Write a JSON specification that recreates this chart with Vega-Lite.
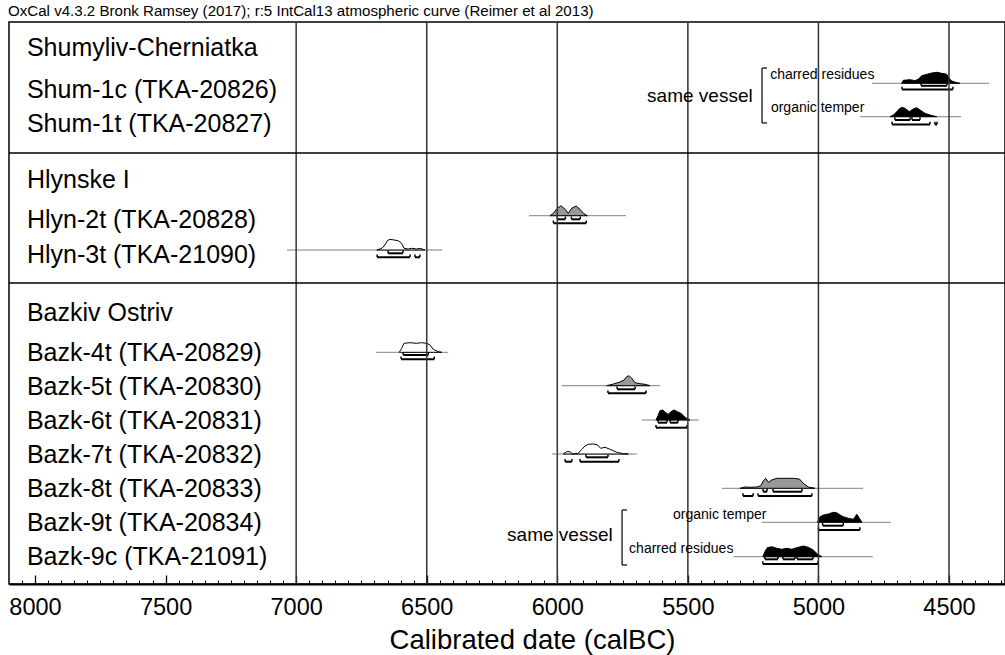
{
  "$schema": "https://vega.github.io/schema/vega-lite/v6.json",
  "autosize": "none",
  "width": 996,
  "height": 562,
  "padding": {"left": 9, "top": 22, "right": 0, "bottom": 71},
  "background": "white",
  "title": {"text": "OxCal v4.3.2 Bronk Ramsey (2017); r:5 IntCal13 atmospheric curve (Reimer et al 2013)", "anchor": "start", "frame": "group", "fontSize": 15.1, "font": "Liberation Sans", "fontWeight": "normal", "color": "black", "offset": 2, "dx": -1},
  "config": {"view": {"stroke": "black", "strokeWidth": 1.5}},
  "datasets": {
    "base": [
      {"s": "Shum-1c", "x1": 4795, "x2": 4347, "lvl": 61.3},
      {"s": "Shum-1t", "x1": 4841, "x2": 4454, "lvl": 94.7},
      {"s": "Hlyn-2t", "x1": 6108, "x2": 5737, "lvl": 193.7},
      {"s": "Hlyn-3t", "x1": 7035, "x2": 6441, "lvl": 228},
      {"s": "Bazk-4t", "x1": 6694, "x2": 6418, "lvl": 330.3},
      {"s": "Bazk-5t", "x1": 5983, "x2": 5607, "lvl": 363.7},
      {"s": "Bazk-6t", "x1": 5677, "x2": 5457, "lvl": 398},
      {"s": "Bazk-7t", "x1": 6020, "x2": 5695, "lvl": 432},
      {"s": "Bazk-8t", "x1": 5370, "x2": 4829, "lvl": 466.3},
      {"s": "Bazk-9t", "x1": 5217, "x2": 4722, "lvl": 500.3},
      {"s": "Bazk-9c", "x1": 5326, "x2": 4792, "lvl": 534.7}
    ],
    "dens": [
      {"s": "Shum-1c", "yr": 4681, "top": 61.3, "base": 61.3},
      {"s": "Shum-1c", "yr": 4675, "top": 58.3, "base": 61.3},
      {"s": "Shum-1c", "yr": 4649, "top": 57.7, "base": 61.3},
      {"s": "Shum-1c", "yr": 4630, "top": 58.7, "base": 61.3},
      {"s": "Shum-1c", "yr": 4617, "top": 57, "base": 61.3},
      {"s": "Shum-1c", "yr": 4604, "top": 53.7, "base": 61.3},
      {"s": "Shum-1c", "yr": 4585, "top": 52.3, "base": 61.3},
      {"s": "Shum-1c", "yr": 4566, "top": 51, "base": 61.3},
      {"s": "Shum-1c", "yr": 4547, "top": 50.3, "base": 61.3},
      {"s": "Shum-1c", "yr": 4528, "top": 51.3, "base": 61.3},
      {"s": "Shum-1c", "yr": 4509, "top": 52.3, "base": 61.3},
      {"s": "Shum-1c", "yr": 4499, "top": 56.3, "base": 61.3},
      {"s": "Shum-1c", "yr": 4490, "top": 59, "base": 61.3},
      {"s": "Shum-1c", "yr": 4470, "top": 60.7, "base": 61.3},
      {"s": "Shum-1c", "yr": 4458, "top": 61.3, "base": 61.3},
      {"s": "Shum-1t", "yr": 4726, "top": 94.7, "base": 94.7},
      {"s": "Shum-1t", "yr": 4713, "top": 93, "base": 94.7},
      {"s": "Shum-1t", "yr": 4700, "top": 89.7, "base": 94.7},
      {"s": "Shum-1t", "yr": 4688, "top": 86.3, "base": 94.7},
      {"s": "Shum-1t", "yr": 4677, "top": 85.3, "base": 94.7},
      {"s": "Shum-1t", "yr": 4665, "top": 87, "base": 94.7},
      {"s": "Shum-1t", "yr": 4652, "top": 89.7, "base": 94.7},
      {"s": "Shum-1t", "yr": 4639, "top": 87.3, "base": 94.7},
      {"s": "Shum-1t", "yr": 4624, "top": 85.7, "base": 94.7},
      {"s": "Shum-1t", "yr": 4611, "top": 88, "base": 94.7},
      {"s": "Shum-1t", "yr": 4592, "top": 91.3, "base": 94.7},
      {"s": "Shum-1t", "yr": 4573, "top": 93, "base": 94.7},
      {"s": "Shum-1t", "yr": 4547, "top": 94.7, "base": 94.7},
      {"s": "Hlyn-2t", "yr": 6028, "top": 193.7, "base": 193.7},
      {"s": "Hlyn-2t", "yr": 6015, "top": 191.3, "base": 193.7},
      {"s": "Hlyn-2t", "yr": 6000, "top": 186.3, "base": 193.7},
      {"s": "Hlyn-2t", "yr": 5986, "top": 183.7, "base": 193.7},
      {"s": "Hlyn-2t", "yr": 5970, "top": 187.3, "base": 193.7},
      {"s": "Hlyn-2t", "yr": 5958, "top": 191.3, "base": 193.7},
      {"s": "Hlyn-2t", "yr": 5945, "top": 186.3, "base": 193.7},
      {"s": "Hlyn-2t", "yr": 5928, "top": 184, "base": 193.7},
      {"s": "Hlyn-2t", "yr": 5913, "top": 187.3, "base": 193.7},
      {"s": "Hlyn-2t", "yr": 5900, "top": 191.3, "base": 193.7},
      {"s": "Hlyn-2t", "yr": 5885, "top": 193.7, "base": 193.7},
      {"s": "Hlyn-3t", "yr": 6691, "top": 228, "base": 228},
      {"s": "Hlyn-3t", "yr": 6672, "top": 226.3, "base": 228},
      {"s": "Hlyn-3t", "yr": 6660, "top": 223, "base": 228},
      {"s": "Hlyn-3t", "yr": 6651, "top": 218.7, "base": 228},
      {"s": "Hlyn-3t", "yr": 6641, "top": 217.3, "base": 228},
      {"s": "Hlyn-3t", "yr": 6625, "top": 218, "base": 228},
      {"s": "Hlyn-3t", "yr": 6609, "top": 218.7, "base": 228},
      {"s": "Hlyn-3t", "yr": 6596, "top": 221.3, "base": 228},
      {"s": "Hlyn-3t", "yr": 6587, "top": 226.3, "base": 228},
      {"s": "Hlyn-3t", "yr": 6571, "top": 227, "base": 228},
      {"s": "Hlyn-3t", "yr": 6557, "top": 226.3, "base": 228},
      {"s": "Hlyn-3t", "yr": 6538, "top": 227, "base": 228},
      {"s": "Hlyn-3t", "yr": 6526, "top": 226.3, "base": 228},
      {"s": "Hlyn-3t", "yr": 6507, "top": 228, "base": 228},
      {"s": "Bazk-4t", "yr": 6605, "top": 330.3, "base": 330.3},
      {"s": "Bazk-4t", "yr": 6596, "top": 326.3, "base": 330.3},
      {"s": "Bazk-4t", "yr": 6587, "top": 321.3, "base": 330.3},
      {"s": "Bazk-4t", "yr": 6564, "top": 320.7, "base": 330.3},
      {"s": "Bazk-4t", "yr": 6538, "top": 321.3, "base": 330.3},
      {"s": "Bazk-4t", "yr": 6519, "top": 320.7, "base": 330.3},
      {"s": "Bazk-4t", "yr": 6500, "top": 321.3, "base": 330.3},
      {"s": "Bazk-4t", "yr": 6487, "top": 323, "base": 330.3},
      {"s": "Bazk-4t", "yr": 6475, "top": 327.3, "base": 330.3},
      {"s": "Bazk-4t", "yr": 6456, "top": 329.7, "base": 330.3},
      {"s": "Bazk-4t", "yr": 6443, "top": 330.3, "base": 330.3},
      {"s": "Bazk-5t", "yr": 5811, "top": 363.7, "base": 363.7},
      {"s": "Bazk-5t", "yr": 5785, "top": 362, "base": 363.7},
      {"s": "Bazk-5t", "yr": 5760, "top": 360, "base": 363.7},
      {"s": "Bazk-5t", "yr": 5744, "top": 358, "base": 363.7},
      {"s": "Bazk-5t", "yr": 5734, "top": 354.7, "base": 363.7},
      {"s": "Bazk-5t", "yr": 5725, "top": 353.7, "base": 363.7},
      {"s": "Bazk-5t", "yr": 5715, "top": 356.3, "base": 363.7},
      {"s": "Bazk-5t", "yr": 5702, "top": 360.7, "base": 363.7},
      {"s": "Bazk-5t", "yr": 5683, "top": 361.7, "base": 363.7},
      {"s": "Bazk-5t", "yr": 5664, "top": 362.3, "base": 363.7},
      {"s": "Bazk-5t", "yr": 5645, "top": 363.7, "base": 363.7},
      {"s": "Bazk-6t", "yr": 5622, "top": 398, "base": 398},
      {"s": "Bazk-6t", "yr": 5613, "top": 393, "base": 398},
      {"s": "Bazk-6t", "yr": 5607, "top": 388.7, "base": 398},
      {"s": "Bazk-6t", "yr": 5596, "top": 388, "base": 398},
      {"s": "Bazk-6t", "yr": 5585, "top": 390.7, "base": 398},
      {"s": "Bazk-6t", "yr": 5575, "top": 392.3, "base": 398},
      {"s": "Bazk-6t", "yr": 5565, "top": 389.7, "base": 398},
      {"s": "Bazk-6t", "yr": 5553, "top": 388, "base": 398},
      {"s": "Bazk-6t", "yr": 5540, "top": 389.7, "base": 398},
      {"s": "Bazk-6t", "yr": 5527, "top": 391.3, "base": 398},
      {"s": "Bazk-6t", "yr": 5511, "top": 395.3, "base": 398},
      {"s": "Bazk-6t", "yr": 5492, "top": 398, "base": 398},
      {"s": "Bazk-7t", "yr": 5977, "top": 432, "base": 432},
      {"s": "Bazk-7t", "yr": 5964, "top": 429.7, "base": 432},
      {"s": "Bazk-7t", "yr": 5951, "top": 429.7, "base": 432},
      {"s": "Bazk-7t", "yr": 5941, "top": 432, "base": 432},
      {"s": "Bazk-7t", "yr": 5920, "top": 431.3, "base": 432},
      {"s": "Bazk-7t", "yr": 5906, "top": 427.3, "base": 432},
      {"s": "Bazk-7t", "yr": 5894, "top": 424, "base": 432},
      {"s": "Bazk-7t", "yr": 5881, "top": 422.3, "base": 432},
      {"s": "Bazk-7t", "yr": 5862, "top": 422, "base": 432},
      {"s": "Bazk-7t", "yr": 5845, "top": 423, "base": 432},
      {"s": "Bazk-7t", "yr": 5834, "top": 426.3, "base": 432},
      {"s": "Bazk-7t", "yr": 5817, "top": 425.3, "base": 432},
      {"s": "Bazk-7t", "yr": 5798, "top": 427.3, "base": 432},
      {"s": "Bazk-7t", "yr": 5772, "top": 430.3, "base": 432},
      {"s": "Bazk-7t", "yr": 5747, "top": 431.7, "base": 432},
      {"s": "Bazk-7t", "yr": 5728, "top": 432, "base": 432},
      {"s": "Bazk-8t", "yr": 5300, "top": 466.3, "base": 466.3},
      {"s": "Bazk-8t", "yr": 5281, "top": 465, "base": 466.3},
      {"s": "Bazk-8t", "yr": 5262, "top": 465.3, "base": 466.3},
      {"s": "Bazk-8t", "yr": 5236, "top": 465, "base": 466.3},
      {"s": "Bazk-8t", "yr": 5221, "top": 463.7, "base": 466.3},
      {"s": "Bazk-8t", "yr": 5211, "top": 459, "base": 466.3},
      {"s": "Bazk-8t", "yr": 5202, "top": 456.3, "base": 466.3},
      {"s": "Bazk-8t", "yr": 5192, "top": 460.3, "base": 466.3},
      {"s": "Bazk-8t", "yr": 5179, "top": 458, "base": 466.3},
      {"s": "Bazk-8t", "yr": 5160, "top": 456.3, "base": 466.3},
      {"s": "Bazk-8t", "yr": 5128, "top": 456.3, "base": 466.3},
      {"s": "Bazk-8t", "yr": 5096, "top": 456.3, "base": 466.3},
      {"s": "Bazk-8t", "yr": 5073, "top": 457, "base": 466.3},
      {"s": "Bazk-8t", "yr": 5058, "top": 461.3, "base": 466.3},
      {"s": "Bazk-8t", "yr": 5039, "top": 465, "base": 466.3},
      {"s": "Bazk-8t", "yr": 5013, "top": 466.3, "base": 466.3},
      {"s": "Bazk-9t", "yr": 5004, "top": 500.3, "base": 500.3},
      {"s": "Bazk-9t", "yr": 4994, "top": 494.7, "base": 500.3},
      {"s": "Bazk-9t", "yr": 4981, "top": 493, "base": 500.3},
      {"s": "Bazk-9t", "yr": 4962, "top": 492, "base": 500.3},
      {"s": "Bazk-9t", "yr": 4943, "top": 490.3, "base": 500.3},
      {"s": "Bazk-9t", "yr": 4930, "top": 490.7, "base": 500.3},
      {"s": "Bazk-9t", "yr": 4917, "top": 493, "base": 500.3},
      {"s": "Bazk-9t", "yr": 4905, "top": 494.7, "base": 500.3},
      {"s": "Bazk-9t", "yr": 4886, "top": 496.3, "base": 500.3},
      {"s": "Bazk-9t", "yr": 4866, "top": 497.3, "base": 500.3},
      {"s": "Bazk-9t", "yr": 4853, "top": 492.3, "base": 500.3},
      {"s": "Bazk-9t", "yr": 4843, "top": 496.3, "base": 500.3},
      {"s": "Bazk-9t", "yr": 4834, "top": 500.3, "base": 500.3},
      {"s": "Bazk-9c", "yr": 5213, "top": 534.7, "base": 534.7},
      {"s": "Bazk-9c", "yr": 5205, "top": 529.7, "base": 534.7},
      {"s": "Bazk-9c", "yr": 5196, "top": 525.7, "base": 534.7},
      {"s": "Bazk-9c", "yr": 5179, "top": 524.7, "base": 534.7},
      {"s": "Bazk-9c", "yr": 5160, "top": 526.3, "base": 534.7},
      {"s": "Bazk-9c", "yr": 5141, "top": 527.3, "base": 534.7},
      {"s": "Bazk-9c", "yr": 5121, "top": 526.3, "base": 534.7},
      {"s": "Bazk-9c", "yr": 5102, "top": 527.3, "base": 534.7},
      {"s": "Bazk-9c", "yr": 5083, "top": 525.7, "base": 534.7},
      {"s": "Bazk-9c", "yr": 5058, "top": 524, "base": 534.7},
      {"s": "Bazk-9c", "yr": 5039, "top": 525.3, "base": 534.7},
      {"s": "Bazk-9c", "yr": 5020, "top": 528, "base": 534.7},
      {"s": "Bazk-9c", "yr": 5004, "top": 532, "base": 534.7},
      {"s": "Bazk-9c", "yr": 4987, "top": 534.7, "base": 534.7}
    ],
    "ranges": [
      {"s": "Shum-1c", "x1": 4607, "x2": 4508, "lvl": 63.8},
      {"s": "Shum-1c", "x1": 4680, "x2": 4485, "lvl": 67.6},
      {"s": "Shum-1t", "x1": 4707, "x2": 4649, "lvl": 98},
      {"s": "Shum-1t", "x1": 4642, "x2": 4611, "lvl": 98},
      {"s": "Shum-1t", "x1": 4718, "x2": 4573, "lvl": 102.5},
      {"s": "Shum-1t", "x1": 4554, "x2": 4546, "lvl": 102.5},
      {"s": "Hlyn-2t", "x1": 6000, "x2": 5969, "lvl": 197.3},
      {"s": "Hlyn-2t", "x1": 5946, "x2": 5912, "lvl": 197.3},
      {"s": "Hlyn-2t", "x1": 6015, "x2": 5889, "lvl": 201.3},
      {"s": "Hlyn-3t", "x1": 6648, "x2": 6591, "lvl": 231.3},
      {"s": "Hlyn-3t", "x1": 6690, "x2": 6564, "lvl": 235.3},
      {"s": "Hlyn-3t", "x1": 6545, "x2": 6526, "lvl": 235.3},
      {"s": "Bazk-4t", "x1": 6590, "x2": 6494, "lvl": 333},
      {"s": "Bazk-4t", "x1": 6598, "x2": 6471, "lvl": 337.3},
      {"s": "Bazk-5t", "x1": 5771, "x2": 5702, "lvl": 367.3},
      {"s": "Bazk-5t", "x1": 5806, "x2": 5660, "lvl": 371.3},
      {"s": "Bazk-6t", "x1": 5614, "x2": 5580, "lvl": 400.7},
      {"s": "Bazk-6t", "x1": 5568, "x2": 5538, "lvl": 400.7},
      {"s": "Bazk-6t", "x1": 5622, "x2": 5503, "lvl": 405.7},
      {"s": "Bazk-7t", "x1": 5890, "x2": 5806, "lvl": 435.3},
      {"s": "Bazk-7t", "x1": 5913, "x2": 5764, "lvl": 439.7},
      {"s": "Bazk-7t", "x1": 5970, "x2": 5944, "lvl": 439.7},
      {"s": "Bazk-8t", "x1": 5212, "x2": 5197, "lvl": 469.7},
      {"s": "Bazk-8t", "x1": 5174, "x2": 5063, "lvl": 469.7},
      {"s": "Bazk-8t", "x1": 5231, "x2": 5025, "lvl": 474},
      {"s": "Bazk-8t", "x1": 5289, "x2": 5250, "lvl": 474},
      {"s": "Bazk-9t", "x1": 4984, "x2": 4905, "lvl": 503.7},
      {"s": "Bazk-9t", "x1": 5000, "x2": 4841, "lvl": 508},
      {"s": "Bazk-9c", "x1": 5205, "x2": 5155, "lvl": 537.3},
      {"s": "Bazk-9c", "x1": 5136, "x2": 5090, "lvl": 537.3},
      {"s": "Bazk-9c", "x1": 5082, "x2": 5021, "lvl": 537.3},
      {"s": "Bazk-9c", "x1": 5213, "x2": 5002, "lvl": 542}
    ],
    "labels": [
      {"t": "Shumyliv-Cherniatka", "lvl": 26},
      {"t": "Shum-1c (TKA-20826)", "lvl": 68},
      {"t": "Shum-1t (TKA-20827)", "lvl": 102},
      {"t": "Hlynske I", "lvl": 158},
      {"t": "Hlyn-2t (TKA-20828)", "lvl": 198},
      {"t": "Hlyn-3t (TKA-21090)", "lvl": 233},
      {"t": "Bazkiv Ostriv", "lvl": 291},
      {"t": "Bazk-4t (TKA-20829)", "lvl": 331},
      {"t": "Bazk-5t (TKA-20830)", "lvl": 365},
      {"t": "Bazk-6t (TKA-20831)", "lvl": 399},
      {"t": "Bazk-7t (TKA-20832)", "lvl": 433},
      {"t": "Bazk-8t (TKA-20833)", "lvl": 467},
      {"t": "Bazk-9t (TKA-20834)", "lvl": 501},
      {"t": "Bazk-9c (TKA-21091)", "lvl": 535}
    ],
    "notes": [
      {"t": "charred residues", "yr": 5185, "lvl": 53},
      {"t": "organic temper", "yr": 5182, "lvl": 86},
      {"t": "organic temper", "yr": 5557, "lvl": 493},
      {"t": "charred residues", "yr": 5725, "lvl": 527}
    ],
    "vessel": [
      {"t": "same vessel", "yr": 5454, "lvl": 74},
      {"t": "same vessel", "yr": 5990, "lvl": 513}
    ],
    "brackets": [
      {"x1": 5216, "x2": 5216, "y1": 46, "y2": 101},
      {"x1": 5216, "x2": 5197, "y1": 46, "y2": 46},
      {"x1": 5216, "x2": 5197, "y1": 101, "y2": 101},
      {"x1": 5752, "x2": 5752, "y1": 488, "y2": 543},
      {"x1": 5752, "x2": 5733, "y1": 488, "y2": 488},
      {"x1": 5752, "x2": 5733, "y1": 543, "y2": 543}
    ],
    "grid": [{"yr": 7000}, {"yr": 6500}, {"yr": 6000}, {"yr": 5500}, {"yr": 5000}, {"yr": 4500}],
    "seps": [{"lvl": 131}, {"lvl": 261}]
  },
  "resolve": {"axis": {"x": "independent"}},
  "layer": [
    {
      "data": {"name": "base"},
      "mark": {"type": "rule", "color": "#808080", "strokeWidth": 1},
      "encoding": {
        "x": {"field": "x1", "type": "quantitative", "scale": {"domain": [4285.6, 8099.6], "reverse": true, "nice": false, "zero": false},
          "axis": {"orient": "top", "offset": -562, "values": [8050,8000,7950,7900,7850,7800,7750,7700,7650,7600,7550,7500,7450,7400,7350,7300,7250,7200,7150,7100,7050,7000,6950,6900,6850,6800,6750,6700,6650,6600,6550,6500,6450,6400,6350,6300,6250,6200,6150,6100,6050,6000,5950,5900,5850,5800,5750,5700,5650,5600,5550,5500,5450,5400,5350,5300,5250,5200,5150,5100,5050,5000,4950,4900,4850,4800,4750,4700,4650,4600,4550,4500,4450,4400,4350,4300], "labels": false, "domain": false, "ticks": true, "tickSize": 4, "tickColor": "black", "tickWidth": 1, "title": null, "grid": false}},
        "x2": {"field": "x2"},
        "y": {"field": "lvl", "type": "quantitative", "scale": {"domain": [0, 562], "reverse": true, "nice": false, "zero": false}, "axis": null}
      }
    },
    {
      "data": {"name": "dens"},
      "mark": {"type": "area", "stroke": "black", "strokeWidth": 1, "fillOpacity": 1, "interpolate": "linear"},
      "encoding": {
        "x": {"field": "yr", "type": "quantitative", "axis": null},
        "y": {"field": "top", "type": "quantitative", "axis": null},
        "y2": {"field": "base"},
        "color": {"field": "s", "type": "nominal", "legend": null,
          "scale": {"domain": ["Shum-1c", "Shum-1t", "Hlyn-2t", "Hlyn-3t", "Bazk-4t", "Bazk-5t", "Bazk-6t", "Bazk-7t", "Bazk-8t", "Bazk-9t", "Bazk-9c"],
                    "range": ["#000000", "#000000", "#999999", "#ffffff", "#ffffff", "#999999", "#000000", "#ffffff", "#999999", "#000000", "#000000"]}}
      }
    },
    {
      "data": {"name": "ranges"},
      "mark": {"type": "rule", "color": "black", "strokeWidth": 2},
      "encoding": {
        "x": {"field": "x1", "type": "quantitative",
          "axis": {"orient": "top", "offset": -562, "values": [8000, 7500, 7000, 6500, 6000, 5500, 5000, 4500], "labels": false, "domain": false, "ticks": true, "tickSize": 9, "tickColor": "black", "tickWidth": 1.3, "title": null, "grid": false}},
        "x2": {"field": "x2"},
        "y": {"field": "lvl", "type": "quantitative", "axis": null}
      }
    },
    {
      "data": {"name": "ranges"},
      "transform": [{"fold": ["x1", "x2"], "as": ["end", "xe"]}],
      "mark": {"type": "tick", "orient": "vertical", "color": "black", "size": 2.5, "thickness": 1.5, "yOffset": -1.5, "opacity": 1},
      "encoding": {
        "x": {"field": "xe", "type": "quantitative", "axis": null},
        "y": {"field": "lvl", "type": "quantitative", "axis": null}
      }
    },
    {
      "data": {"name": "grid"},
      "mark": {"type": "rule", "color": "#333333", "strokeWidth": 1.5},
      "encoding": {
        "x": {"field": "yr", "type": "quantitative",
          "axis": {"orient": "bottom", "values": [8000, 7500, 7000, 6500, 6000, 5500, 5000, 4500], "format": "d", "ticks": false, "grid": false, "labelFont": "Liberation Sans", "labelFontSize": 23.5, "labelColor": "black", "labelPadding": 11, "labelFlush": false, "labelOverlap": false, "domainColor": "black", "domainWidth": 2, "title": "Calibrated date (calBC)", "titleFont": "Liberation Sans", "titleFontSize": 27.5, "titleFontWeight": "normal", "titleColor": "black", "titlePadding": 8, "titleX": 523, "titleAlign": "center"}}
      }
    },
    {
      "data": {"name": "seps"},
      "mark": {"type": "rule", "color": "black", "strokeWidth": 1.5},
      "encoding": {
        "y": {"field": "lvl", "type": "quantitative", "axis": null}
      }
    },
    {
      "data": {"name": "brackets"},
      "mark": {"type": "rule", "color": "black", "strokeWidth": 1.2},
      "encoding": {
        "x": {"field": "x1", "type": "quantitative", "axis": null},
        "x2": {"field": "x2"},
        "y": {"field": "y1", "type": "quantitative", "axis": null},
        "y2": {"field": "y2"}
      }
    },
    {
      "data": {"name": "labels"},
      "mark": {"type": "text", "align": "left", "baseline": "middle", "font": "Liberation Sans", "fontSize": 25, "color": "black"},
      "encoding": {
        "x": {"datum": 8031, "type": "quantitative", "axis": null},
        "y": {"field": "lvl", "type": "quantitative", "axis": null},
        "text": {"field": "t"}
      }
    },
    {
      "data": {"name": "notes"},
      "mark": {"type": "text", "align": "left", "baseline": "middle", "font": "Liberation Sans", "fontSize": 14, "color": "black"},
      "encoding": {
        "x": {"field": "yr", "type": "quantitative", "axis": null},
        "y": {"field": "lvl", "type": "quantitative", "axis": null},
        "text": {"field": "t"}
      }
    },
    {
      "data": {"name": "vessel"},
      "mark": {"type": "text", "align": "center", "baseline": "middle", "font": "Liberation Sans", "fontSize": 19, "color": "black"},
      "encoding": {
        "x": {"field": "yr", "type": "quantitative", "axis": null},
        "y": {"field": "lvl", "type": "quantitative", "axis": null},
        "text": {"field": "t"}
      }
    }
  ]
}
